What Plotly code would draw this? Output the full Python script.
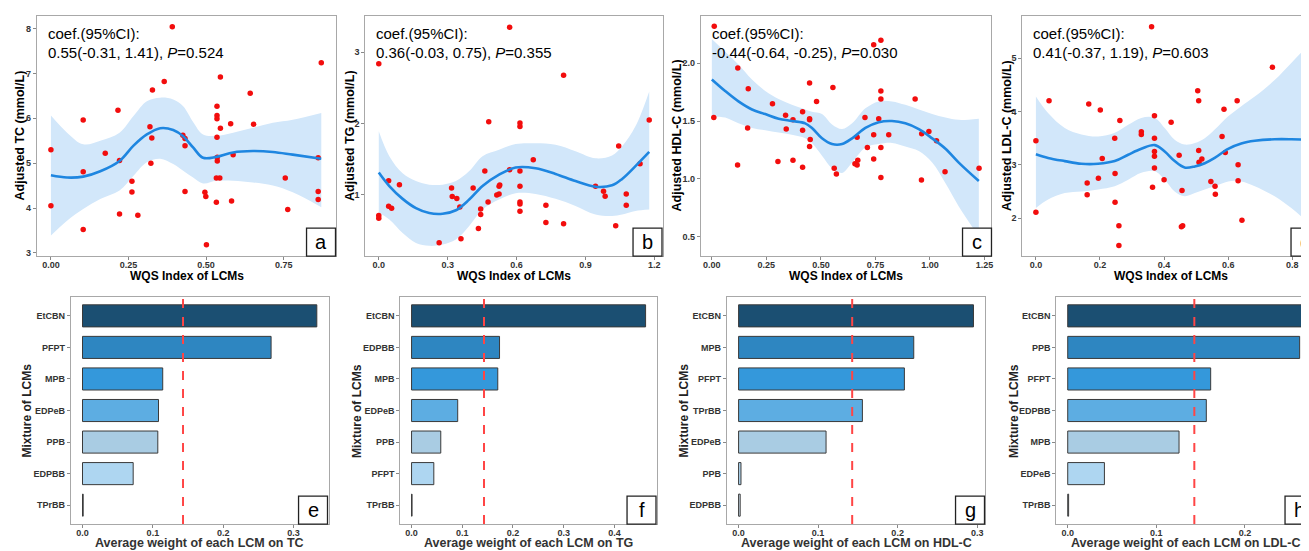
import plotly.graph_objects as go

# page body has an 8px margin: figure is sized so that it fills the visible window
OFF = 8
W, H = 1309 - OFF, 551 - OFF

# ---------------- data: top row (scatter + smooth fit) ----------------
tc_x = [0, 0, 0.104, 0.104, 0.104, 0.175, 0.216, 0.221, 0.221, 0.261, 0.261, 0.280, 0.319, 0.325, 0.322, 0.327,
        0.365, 0.391, 0.425, 0.432, 0.432, 0.432, 0.496, 0.499, 0.501, 0.533, 0.535, 0.535, 0.535, 0.535, 0.536,
        0.536, 0.533, 0.544, 0.546, 0.546, 0.579, 0.582, 0.587, 0.642, 0.653, 0.755, 0.763, 0.861, 0.861, 0.861, 0.871]
tc_y = [5.30, 4.05, 5.96, 4.81, 3.52, 5.22, 6.18, 5.06, 3.87, 4.60, 4.36, 3.84, 5.81, 5.56, 5.00, 6.63,
        6.82, 8.04, 5.62, 5.55, 5.39, 4.37, 4.35, 4.26, 3.18, 4.13, 6.27, 6.06, 5.99, 5.58, 5.05,
        5.13, 4.67, 4.67, 6.92, 5.78, 5.88, 4.16, 5.19, 6.56, 5.87, 4.67, 3.97, 5.12, 4.37, 4.19, 7.24]
tc_fit_x = [0, 0.052, 0.104, 0.159, 0.221, 0.266, 0.309, 0.352, 0.394, 0.426, 0.458, 0.490, 0.533, 0.587,
            0.651, 0.715, 0.779, 0.871]
tc_fit = [4.73, 4.68, 4.70, 4.82, 5.05, 5.39, 5.64, 5.78, 5.74, 5.60, 5.35, 5.12, 5.14, 5.24, 5.27, 5.25, 5.19, 5.10]
tc_hi = [6.06, 5.68, 5.42, 5.50, 5.68, 6.05, 6.38, 6.46, 6.42, 6.27, 5.92, 5.64, 5.61, 5.68, 5.79, 5.90, 5.97, 6.12]
tc_lo = [3.39, 3.72, 3.98, 4.20, 4.39, 4.72, 5.02, 5.10, 4.98, 4.83, 4.68, 4.55, 4.61, 4.61, 4.57, 4.50, 4.35, 4.02]

tg_x = [0, 0, 0, 0.043, 0.043, 0.056, 0.090, 0.263, 0.317, 0.320, 0.340, 0.353, 0.358, 0.411, 0.434, 0.444,
        0.444, 0.462, 0.476, 0.479, 0.514, 0.524, 0.527, 0.524, 0.570, 0.570, 0.615, 0.615, 0.615, 0.615, 0.615,
        0.615, 0.615, 0.673, 0.728, 0.728, 0.805, 0.805, 0.944, 0.979, 0.986, 1.032, 1.045, 1.078, 1.078, 1.138, 1.178]
tg_y = [2.84, 0.706, 0.668, 1.196, 0.836, 0.808, 1.140, 0.322, 1.093, 0.972, 0.944, 0.827, 0.379, 1.093, 0.523,
        0.799, 0.720, 1.332, 0.897, 2.023, 0.995, 1.009, 1.136, 1.117, 3.350, 1.350, 2.005, 1.958, 1.332, 1.117,
        0.897, 0.869, 0.766, 1.491, 0.850, 0.607, 2.678, 0.589, 1.117, 1.047, 0.977, 0.561, 1.682, 1.009, 0.850,
        1.435, 2.047]
tg_fit_x = [0, 0.046, 0.104, 0.162, 0.220, 0.278, 0.336, 0.394, 0.452, 0.524, 0.596, 0.683, 0.770, 0.857,
            0.944, 1.016, 1.060, 1.118, 1.178]
tg_fit = [1.31, 1.12, 0.94, 0.81, 0.74, 0.73, 0.78, 0.93, 1.12, 1.28, 1.38, 1.37, 1.29, 1.19, 1.11, 1.13, 1.22, 1.40, 1.60]
tg_hi = [1.89, 1.54, 1.30, 1.19, 1.14, 1.14, 1.19, 1.33, 1.54, 1.63, 1.71, 1.72, 1.70, 1.61, 1.51, 1.55, 1.68, 1.96, 2.45]
tg_lo = [0.75, 0.65, 0.46, 0.32, 0.28, 0.30, 0.37, 0.56, 0.79, 0.93, 1.02, 1.01, 0.94, 0.84, 0.72, 0.70, 0.72, 0.77, 0.79]

hdl_x = [0.011, 0.009, 0.119, 0.118, 0.167, 0.164, 0.278, 0.303, 0.338, 0.341, 0.372, 0.372, 0.416, 0.416, 0.416,
         0.448, 0.448, 0.448, 0.451, 0.448, 0.480, 0.555, 0.561, 0.571, 0.656, 0.666, 0.669, 0.666, 0.702, 0.713,
         0.742, 0.742, 0.742, 0.775, 0.765, 0.775, 0.775, 0.775, 0.775, 0.811, 0.932, 0.962, 0.961, 0.995, 1.030,
         1.069, 1.225]
hdl_y = [2.32, 1.53, 1.96, 1.12, 1.78, 1.44, 1.65, 1.15, 1.55, 1.43, 1.51, 1.16, 1.58, 1.42, 1.10, 1.83, 1.52,
         1.51, 1.34, 1.28, 1.67, 1.79, 1.09, 1.04, 1.13, 1.12, 1.16, 1.36, 1.53, 1.27, 1.38, 1.17, 2.16, 2.20,
         1.52, 1.76, 1.69, 1.27, 1.01, 1.38, 1.69, 1.39, 0.99, 1.41, 1.33, 1.06, 1.09]
hdl_fit_x = [0, 0.061, 0.122, 0.184, 0.245, 0.306, 0.367, 0.428, 0.459, 0.505, 0.551, 0.597, 0.643, 0.704,
             0.765, 0.826, 0.887, 0.949, 1.010, 1.071, 1.132, 1.224]
hdl_fit = [1.86, 1.76, 1.67, 1.60, 1.56, 1.52, 1.50, 1.48, 1.44, 1.35, 1.30, 1.30, 1.35, 1.44, 1.49, 1.50,
           1.48, 1.43, 1.35, 1.26, 1.14, 0.98]
hdl_hi = [2.21, 2.10, 1.99, 1.86, 1.76, 1.69, 1.64, 1.60, 1.58, 1.56, 1.47, 1.43, 1.48, 1.61, 1.67, 1.67,
          1.64, 1.60, 1.56, 1.53, 1.51, 1.52]
hdl_lo = [1.54, 1.53, 1.48, 1.44, 1.42, 1.40, 1.38, 1.35, 1.31, 1.20, 1.09, 1.05, 1.14, 1.27, 1.30, 1.31,
          1.28, 1.24, 1.14, 0.96, 0.76, 0.50]

ldl_x = [0, 0, 0.041, 0.165, 0.160, 0.160, 0.201, 0.195, 0.207, 0.262, 0.246, 0.247, 0.247, 0.259, 0.259, 0.329,
         0.329, 0.361, 0.370, 0.370, 0.370, 0.370, 0.370, 0.364, 0.400, 0.422, 0.447, 0.456, 0.454, 0.458, 0.505,
         0.508, 0.508, 0.509, 0.518, 0.546, 0.559, 0.560, 0.581, 0.587, 0.591, 0.628, 0.631, 0.631, 0.643, 0.738, 0.846]
ldl_y = [3.45, 2.11, 4.20, 4.14, 2.66, 2.44, 4.03, 2.75, 3.12, 3.83, 3.50, 2.84, 2.30, 1.86, 1.49, 3.62, 3.57,
         5.59, 3.92, 3.50, 3.25, 3.16, 2.94, 2.58, 2.72, 3.80, 3.18, 2.52, 1.84, 1.86, 4.39, 4.20, 3.27, 3.05,
         3.11, 2.69, 2.60, 2.45, 3.53, 4.04, 3.23, 4.20, 3.00, 2.70, 1.96, 4.83, 3.03]
ldl_fit_x = [0, 0.038, 0.090, 0.142, 0.194, 0.246, 0.288, 0.329, 0.371, 0.402, 0.433, 0.464, 0.496, 0.527,
             0.558, 0.600, 0.641, 0.683, 0.745, 0.797, 0.846, 0.900]
ldl_fit = [3.20, 3.13, 3.07, 3.02, 3.02, 3.07, 3.19, 3.30, 3.37, 3.25, 3.07, 2.95, 2.97, 3.03, 3.13, 3.30,
           3.40, 3.45, 3.48, 3.48, 3.47, 3.45]
ldl_hi = [4.28, 3.97, 3.69, 3.57, 3.53, 3.60, 3.75, 3.88, 3.88, 3.69, 3.47, 3.38, 3.41, 3.50, 3.66, 3.91,
          4.10, 4.28, 4.59, 4.91, 5.22, 5.55]
ldl_lo = [2.19, 2.35, 2.47, 2.50, 2.54, 2.60, 2.72, 2.85, 2.88, 2.72, 2.50, 2.41, 2.47, 2.54, 2.60, 2.69,
          2.69, 2.60, 2.41, 2.19, 1.94, 1.70]

coef_text = [
    "0.55(-0.31, 1.41), <i>P</i>=0.524",
    "0.36(-0.03, 0.75), <i>P</i>=0.355",
    "-0.44(-0.64, -0.25), <i>P</i>=0.030",
    "0.41(-0.37, 1.19), <i>P</i>=0.603",
]
outcomes = ["TC", "TG", "HDL-C", "LDL-C"]

# ---------------- data: bottom row (WQS weights) ----------------
tc_lcm = ["EtCBN", "PFPT", "MPB", "EDPeB", "PPB", "EDPBB", "TPrBB"]
tc_w = [0.333, 0.268, 0.114, 0.108, 0.107, 0.072, 0.001]
tg_lcm = ["EtCBN", "EDPBB", "MPB", "EDPeB", "PPB", "PFPT", "TPrBB"]
tg_w = [0.4615, 0.1735, 0.170, 0.091, 0.0576, 0.0439, 0.001]
hdl_lcm = ["EtCBN", "MPB", "PFPT", "TPrBB", "EDPeB", "PPB", "EDPBB"]
hdl_w = [0.2954, 0.2203, 0.2085, 0.1557, 0.110, 0.003, 0.002]
ldl_lcm = ["EtCBN", "PPB", "PFPT", "EDPBB", "MPB", "EDPeB", "TPrBB"]
ldl_w = [0.265, 0.2617, 0.1613, 0.1564, 0.1256, 0.0414, 0.001]
rank_colors = ["#1B4F72", "#2E86C1", "#3498DB", "#5DADE2", "#A9CCE3", "#AED6F1", "#D6EAF8"]
threshold = 1 / 7
panel_letters = ["a", "b", "c", "d", "e", "f", "g", "h"]

# ---------------- layout geometry (screen pixels) ----------------
top_cols = [(37, 337), (366, 664), (702, 993), (1024, 1309)]
bot_cols = [(71, 329), (401, 658), (728, 987), (1058, 1309)]
top_rows = (16, 257)
bot_rows = (298, 526)

top_xr = [[-0.045, 0.92], [-0.058, 1.238], [-0.05, 1.282], [-0.042, 0.846]]
top_yr = [[2.93, 8.28], [0.136, 3.51], [0.33, 2.41], [1.29, 5.79]]
top_xt = [([0, 0.25, 0.5, 0.75], ["0.00", "0.25", "0.50", "0.75"]),
          ([0, 0.3, 0.6, 0.9, 1.2], ["0.0", "0.3", "0.6", "0.9", "1.2"]),
          ([0, 0.25, 0.5, 0.75, 1.0, 1.25], ["0.00", "0.25", "0.50", "0.75", "1.00", "1.25"]),
          ([0, 0.2, 0.4, 0.6, 0.8], ["0.0", "0.2", "0.4", "0.6", "0.8"])]
top_yt = [([3, 4, 5, 6, 7, 8], ["3", "4", "5", "6", "7", "8"]),
          ([1, 2, 3], ["1", "2", "3"]),
          ([0.5, 1.0, 1.5, 2.0], ["0.5", "1.0", "1.5", "2.0"]),
          ([2, 3, 4, 5], ["2", "3", "4", "5"])]
bot_xr = [[-0.0165, 0.3496], [-0.022, 0.484], [-0.0147, 0.3105], [-0.0128, 0.270]]
bot_xt = [[0, 0.1, 0.2, 0.3], [0, 0.1, 0.2, 0.3, 0.4], [0, 0.1, 0.2, 0.3], [0, 0.1, 0.2]]

def px_x(p):
    return (p - OFF) / W

def px_y(p):
    return 1 - (p - OFF) / H

FONT = "Liberation Sans, Arial, sans-serif"
BORDER = "#a8a8a8"
tickfont = dict(family=FONT, size=9, color="#333333", weight="bold")

fig = go.Figure()
layout = dict(
    width=W, height=H, margin=dict(l=0, r=0, t=0, b=0),
    paper_bgcolor="white", plot_bgcolor="white", showlegend=False,
    font=dict(family=FONT, color="black"),
)
annotations = []
shapes = []

scatter_sets = [
    (tc_x, tc_y, tc_fit_x, tc_fit, tc_hi, tc_lo),
    (tg_x, tg_y, tg_fit_x, tg_fit, tg_hi, tg_lo),
    (hdl_x, hdl_y, hdl_fit_x, hdl_fit, hdl_hi, hdl_lo),
    (ldl_x, ldl_y, ldl_fit_x, ldl_fit, ldl_hi, ldl_lo),
]

for i in range(4):
    n = i + 1
    xa = "x" if n == 1 else f"x{n}"
    ya = "y" if n == 1 else f"y{n}"
    px, py, fx, fy, hi, lo = scatter_sets[i]
    fig.add_trace(go.Scatter(x=fx, y=lo, xaxis=xa, yaxis=ya, mode="lines",
                             line=dict(width=0, shape="spline", color="rgba(0,0,0,0)"), hoverinfo="skip"))
    fig.add_trace(go.Scatter(x=fx, y=hi, xaxis=xa, yaxis=ya, mode="lines", fill="tonexty",
                             fillcolor="#d2e7fa", line=dict(width=0, shape="spline", color="rgba(0,0,0,0)"),
                             hoverinfo="skip"))
    fig.add_trace(go.Scatter(x=px, y=py, xaxis=xa, yaxis=ya, mode="markers",
                             marker=dict(size=5.5, color="#f20d0d")))
    fig.add_trace(go.Scatter(x=fx, y=fy, xaxis=xa, yaxis=ya, mode="lines",
                             line=dict(width=2.6, color="#1e86e0", shape="spline")))
    last = (i == 3)
    l, r = top_cols[i]
    layout["xaxis" if n == 1 else f"xaxis{n}"] = dict(
        domain=[px_x(l), px_x(r)], anchor=ya, range=top_xr[i],
        tickvals=top_xt[i][0], ticktext=top_xt[i][1], tickfont=tickfont, ticklabelstandoff=-3,
        ticks="outside", ticklen=3, tickcolor="#888888", showgrid=False, zeroline=False,
        showline=True, linecolor=BORDER, linewidth=1.2, mirror=True)
    layout["yaxis" if n == 1 else f"yaxis{n}"] = dict(
        domain=[px_y(top_rows[1]), px_y(top_rows[0])], anchor=xa, range=top_yr[i],
        tickvals=top_yt[i][0], ticktext=top_yt[i][1], tickfont=tickfont,
        ticks="outside", ticklen=3, tickcolor="#888888", showgrid=False, zeroline=False,
        showline=True, linecolor=BORDER, linewidth=1.2, mirror=not last)
    # coef text
    annotations.append(dict(xref="paper", yref="paper", x=px_x(l + 9), y=px_y(34), xanchor="left",
                            yanchor="middle", showarrow=False, text="coef.(95%CI):",
                            font=dict(size=15, family=FONT, color="black")))
    annotations.append(dict(xref="paper", yref="paper", x=px_x(l + 9), y=px_y(53), xanchor="left",
                            yanchor="middle", showarrow=False, text=coef_text[i],
                            font=dict(size=15, family=FONT, color="black")))
    # axis titles
    annotations.append(dict(xref="paper", yref="paper", x=px_x((l + (r if not last else 1322)) / 2),
                            y=px_y(277), xanchor="center", yanchor="middle", showarrow=False,
                            text="<b>WQS Index of LCMs</b>", font=dict(size=12, family=FONT, color="black")))
    ytx = [20, 350, 678, 1008][i]
    annotations.append(dict(xref="paper", yref="paper", x=px_x(ytx), y=px_y(136), xanchor="center",
                            yanchor="middle", showarrow=False, textangle=-90,
                            text=f"<b>Adjusted {outcomes[i]} (mmol/L)</b>",
                            font=dict(size=12.5, family=FONT, color="black")))

bar_sets = [(tc_lcm, tc_w), (tg_lcm, tg_w), (hdl_lcm, hdl_w), (ldl_lcm, ldl_w)]
for i in range(4):
    n = i + 5
    xa, ya = f"x{n}", f"y{n}"
    lcm, w = bar_sets[i]
    fig.add_trace(go.Bar(x=w, y=lcm, orientation="h", xaxis=xa, yaxis=ya, width=0.7,
                         marker=dict(color=rank_colors, line=dict(color="#3a3a3a", width=1))))
    last = (i == 3)
    l, r = bot_cols[i]
    layout[f"xaxis{n}"] = dict(
        domain=[px_x(l), px_x(r)], anchor=ya, range=bot_xr[i], tickvals=bot_xt[i],
        ticktext=[f"{v:.1f}" for v in bot_xt[i]], tickfont=tickfont, ticklabelstandoff=-3,
        ticks="outside", ticklen=3, tickcolor="#888888", showgrid=False, zeroline=False,
        showline=True, linecolor=BORDER, linewidth=1.2, mirror=True)
    layout[f"yaxis{n}"] = dict(
        domain=[px_y(bot_rows[1]), px_y(bot_rows[0])], anchor=xa, type="category",
        categoryorder="array", categoryarray=lcm[::-1], range=[-0.6, 6.6], tickfont=tickfont,
        ticks="outside", ticklen=3, tickcolor="#888888", showgrid=False, zeroline=False,
        showline=True, linecolor=BORDER, linewidth=1.2, mirror=not last)
    shapes.append(dict(type="line", xref=xa, yref=f"y{n} domain", x0=threshold, x1=threshold, y0=0, y1=1,
                       line=dict(color="#ff4545", width=2, dash="dash"), layer="above"))
    annotations.append(dict(xref="paper", yref="paper", x=px_x((l + (r if not last else 1316)) / 2),
                            y=px_y(545), xanchor="center", yanchor="middle", showarrow=False,
                            text=f"<b>Average weight of each LCM on {outcomes[i]}</b>",
                            font=dict(size=12.5, family=FONT, color="#333333")))
    ytx = [27, 357, 685, 1015][i]
    annotations.append(dict(xref="paper", yref="paper", x=px_x(ytx), y=px_y(412), xanchor="center",
                            yanchor="middle", showarrow=False, textangle=-90,
                            text="<b>Mixture of LCMs</b>", font=dict(size=12, family=FONT, color="#222222")))

# panel letter boxes (screen pixel positions of box left edge / bottom)
box_left = [307, 634, 964, 1293, 299, 628, 957, 1287]
box_bottom = [257, 257, 257, 257, 526, 526, 526, 526]
for k in range(8):
    bl, bb = box_left[k], box_bottom[k]
    shapes.append(dict(type="rect", xref="paper", yref="paper",
                       x0=px_x(bl), x1=px_x(bl + 29), y0=px_y(bb), y1=px_y(bb - 28),
                       fillcolor="white", line=dict(color="#222222", width=1.3), layer="above"))
    annotations.append(dict(xref="paper", yref="paper", x=px_x(bl + 14.5), y=px_y(bb - 14), xanchor="center",
                            yanchor="middle", showarrow=False, text=panel_letters[k],
                            font=dict(size=20, family=FONT, color="black")))

layout["annotations"] = annotations
layout["shapes"] = shapes
fig.update_layout(**layout)
fig.write_html("out.html")
